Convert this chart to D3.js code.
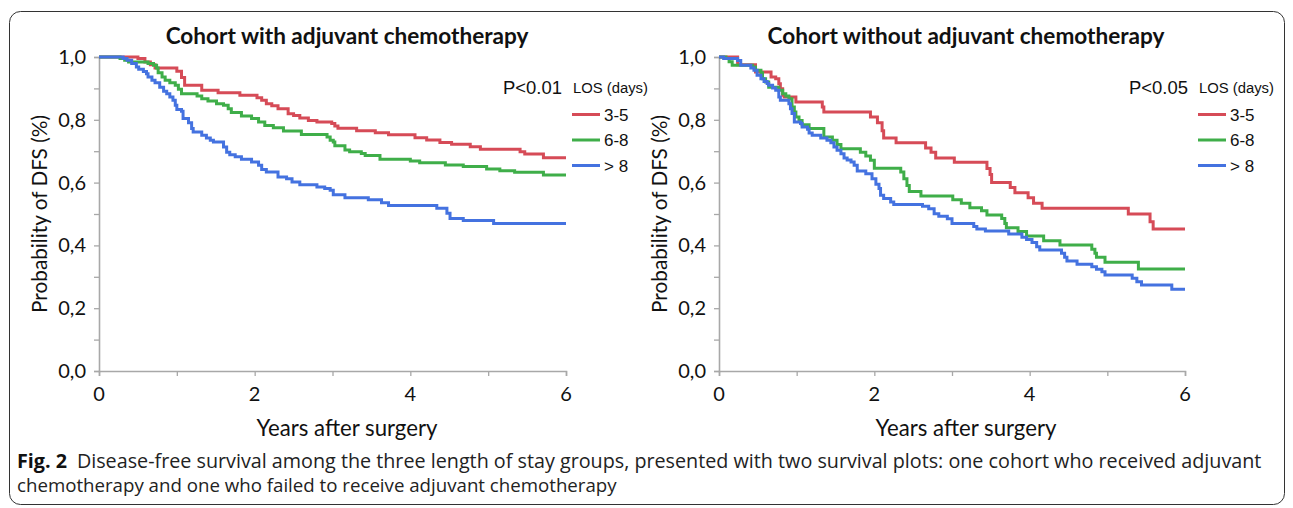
<!DOCTYPE html>
<html>
<head>
<meta charset="utf-8">
<script src="https://cdnjs.cloudflare.com/ajax/libs/d3/7.8.5/d3.min.js"></script>
<style>
body { margin: 0; background: #fff; }
text { fill: #111; }
.chart-text { font-family: Lato, "Open Sans", sans-serif; }
.legend-text { font-family: "Liberation Sans", Arial, sans-serif; }
.caption { font-family: "Open Sans", "Noto Sans", sans-serif; fill: #222; }
</style>
</head>
<body>
<svg id="chart" width="1293" height="508"></svg>
<script>
// groups and tick labels
var groups = ["3-5", "6-8", "> 8"];
var colors = ["#d64b57", "#3fae49", "#4472e0"];
var yTicks = [0, 0.2, 0.4, 0.6, 0.8, 1.0];
var yMinor = [0.1, 0.3, 0.5, 0.7, 0.9];
var xTicks = [0, 2, 4, 6];
var xMinor = [1, 3, 5];
var panelTitles = ["Cohort with adjuvant chemotherapy", "Cohort without adjuvant chemotherapy"];
var pValues = ["P<0.01", "P<0.05"];

// Kaplan-Meier steps [years, DFS] - cohort with adjuvant chemotherapy
var withLos35 = [[0,1],[0.50,0.995],[0.59,0.984],[0.66,0.975],[0.72,0.965],[1.00,0.955],[1.06,0.935],[1.10,0.91],[1.32,0.894],[1.53,0.886],[1.81,0.878],[2.03,0.870],[2.09,0.862],[2.15,0.851],[2.22,0.845],[2.30,0.835],[2.43,0.819],[2.50,0.814],[2.58,0.806],[2.69,0.798],[2.80,0.793],[2.99,0.788],[3.03,0.780],[3.07,0.773],[3.31,0.765],[3.55,0.759],[3.72,0.752],[4.06,0.743],[4.21,0.736],[4.38,0.728],[4.53,0.722],[4.77,0.714],[4.90,0.706],[5.41,0.698],[5.47,0.691],[5.71,0.679],[6.0,0.679]];
var withLos68 = [[0,1],[0.27,0.995],[0.33,0.99],[0.38,0.984],[0.63,0.979],[0.70,0.974],[0.74,0.965],[0.76,0.95],[0.81,0.936],[0.85,0.926],[0.91,0.918],[0.98,0.910],[1.02,0.897],[1.06,0.883],[1.26,0.876],[1.32,0.867],[1.40,0.860],[1.51,0.851],[1.60,0.846],[1.66,0.835],[1.70,0.823],[1.83,0.812],[1.96,0.804],[2.05,0.793],[2.13,0.782],[2.24,0.775],[2.37,0.764],[2.60,0.753],[2.93,0.745],[2.97,0.735],[3.01,0.729],[3.03,0.717],[3.16,0.704],[3.22,0.698],[3.37,0.693],[3.42,0.686],[3.61,0.674],[4.00,0.669],[4.12,0.663],[4.45,0.656],[4.68,0.651],[4.98,0.643],[5.15,0.638],[5.34,0.633],[5.71,0.624],[6.0,0.624]];
var withLos8 = [[0,1],[0.31,0.995],[0.36,0.99],[0.42,0.979],[0.48,0.968],[0.51,0.961],[0.57,0.954],[0.61,0.947],[0.63,0.936],[0.68,0.926],[0.72,0.918],[0.78,0.904],[0.83,0.891],[0.87,0.883],[0.91,0.873],[0.95,0.862],[0.98,0.846],[1.00,0.833],[1.06,0.827],[1.08,0.804],[1.15,0.791],[1.19,0.772],[1.21,0.761],[1.32,0.751],[1.38,0.742],[1.43,0.735],[1.47,0.729],[1.60,0.713],[1.64,0.697],[1.68,0.689],[1.75,0.682],[1.83,0.674],[1.96,0.666],[2.05,0.655],[2.09,0.642],[2.15,0.634],[2.30,0.618],[2.41,0.612],[2.48,0.602],[2.58,0.593],[2.80,0.586],[2.90,0.581],[2.97,0.576],[3.01,0.561],[3.16,0.552],[3.46,0.545],[3.63,0.536],[3.72,0.527],[4.34,0.518],[4.47,0.502],[4.51,0.486],[4.68,0.479],[5.07,0.470],[6.0,0.470]];

// cohort without adjuvant chemotherapy
var withoutLos35 = [[0,1],[0.24,0.975],[0.47,0.952],[0.67,0.936],[0.73,0.931],[0.77,0.915],[0.79,0.899],[0.82,0.878],[0.84,0.873],[0.99,0.857],[1.33,0.841],[1.35,0.825],[1.95,0.809],[2.04,0.791],[2.10,0.765],[2.12,0.742],[2.28,0.727],[2.66,0.710],[2.73,0.697],[2.79,0.678],[3.03,0.665],[3.45,0.645],[3.49,0.626],[3.51,0.600],[3.75,0.584],[3.81,0.568],[3.98,0.552],[4.05,0.534],[4.16,0.518],[5.27,0.500],[5.55,0.475],[5.59,0.452],[6.0,0.452]];
var withoutLos68 = [[0,1],[0.09,0.995],[0.13,0.985],[0.17,0.974],[0.43,0.968],[0.47,0.958],[0.54,0.950],[0.56,0.931],[0.60,0.920],[0.64,0.904],[0.77,0.894],[0.82,0.883],[0.86,0.876],[0.90,0.867],[0.94,0.841],[0.97,0.825],[0.99,0.809],[1.03,0.798],[1.07,0.784],[1.16,0.772],[1.35,0.745],[1.46,0.735],[1.52,0.721],[1.57,0.708],[1.82,0.697],[1.89,0.685],[1.95,0.671],[2.00,0.646],[2.34,0.634],[2.38,0.612],[2.42,0.591],[2.45,0.572],[2.60,0.557],[3.01,0.545],[3.12,0.534],[3.23,0.520],[3.38,0.510],[3.45,0.497],[3.64,0.486],[3.68,0.470],[3.70,0.456],[3.85,0.444],[3.96,0.430],[4.18,0.415],[4.39,0.401],[4.80,0.388],[4.84,0.375],[4.86,0.362],[4.97,0.346],[5.40,0.325],[6.0,0.325]];
var withoutLos8 = [[0,1],[0.06,0.995],[0.24,0.989],[0.28,0.974],[0.41,0.965],[0.45,0.958],[0.49,0.942],[0.54,0.931],[0.58,0.922],[0.62,0.916],[0.64,0.910],[0.69,0.901],[0.73,0.894],[0.77,0.873],[0.79,0.862],[0.90,0.851],[0.92,0.835],[0.94,0.820],[0.97,0.793],[1.05,0.788],[1.07,0.777],[1.14,0.770],[1.16,0.758],[1.20,0.751],[1.31,0.742],[1.39,0.735],[1.44,0.727],[1.48,0.713],[1.52,0.703],[1.57,0.692],[1.61,0.678],[1.65,0.672],[1.70,0.666],[1.74,0.655],[1.78,0.637],[1.89,0.628],[1.97,0.612],[2.02,0.595],[2.06,0.581],[2.08,0.560],[2.12,0.549],[2.21,0.538],[2.25,0.530],[2.62,0.525],[2.70,0.517],[2.77,0.501],[2.83,0.493],[2.94,0.485],[3.00,0.470],[3.28,0.460],[3.32,0.452],[3.43,0.446],[3.73,0.436],[3.90,0.426],[3.96,0.419],[4.03,0.409],[4.09,0.396],[4.13,0.385],[4.41,0.375],[4.45,0.362],[4.48,0.350],[4.61,0.340],[4.80,0.332],[4.86,0.324],[4.93,0.316],[4.97,0.306],[5.32,0.295],[5.38,0.284],[5.44,0.274],[5.83,0.260],[6.0,0.260]];

var svg = d3.select("#chart");

// frame round the figure
svg.append("rect")
  .attr("x", 9.5).attr("y", 11.5)
  .attr("width", 1275).attr("height", 493)
  .attr("rx", 11)
  .style("fill", "none").style("stroke", "#333").style("stroke-width", 1);

// scale a text's font so it spans the wanted width
function fitWidth(sel, w) {
  var fs = parseFloat(sel.style("font-size"));
  var len = sel.node().getComputedTextLength();
  sel.style("font-size", (fs * w / len) + "px");
}

var panels = [
  {left: 99, right: 566, cx: 347, legX: 572, series: [withLos35, withLos68, withLos8], titleW: 363},
  {left: 719, right: 1185, cx: 966, legX: 1198, series: [withoutLos35, withoutLos68, withoutLos8], titleW: 397}
];
var plotTop = 57, plotBottom = 371;

panels.forEach(function(p, k) {
  var xs = d3.scaleLinear().domain([0, 6]).range([p.left, p.right]);
  var ys = d3.scaleLinear().domain([0, 1]).range([plotBottom, plotTop]);
  var g = svg.append("g");

  // axes
  var yAxis = d3.axisLeft(ys).tickValues(yTicks.concat(yMinor)).tickSize(5).tickFormat("");
  var ya = g.append("g").attr("transform", "translate(" + p.left + ",0)").call(yAxis);
  var xAxis = d3.axisBottom(xs).tickValues(xTicks.concat(xMinor)).tickSize(5).tickFormat("");
  var xa = g.append("g").attr("transform", "translate(0," + plotBottom + ")").call(xAxis);
  [ya, xa].forEach(function(a) {
    a.select(".domain").attr("stroke", "#a8a8a8").attr("stroke-width", 1.6);
    a.selectAll(".tick line").attr("stroke", "#a8a8a8").attr("stroke-width", 1.3);
  });

  g.selectAll(".ylab").data(yTicks).enter().append("text")
    .attr("class", "chart-text")
    .attr("x", p.left - 13).attr("y", function(d) { return ys(d); })
    .attr("dy", "0.35em")
    .attr("text-anchor", "end")
    .style("font-size", "20px")
    .text(function(d) { return d3.format(".1f")(d).replace(".", ","); });

  g.selectAll(".xlab").data(xTicks).enter().append("text")
    .attr("class", "chart-text")
    .attr("x", function(d) { return xs(d); }).attr("y", 401)
    .attr("text-anchor", "middle")
    .style("font-size", "20px")
    .text(function(d) { return d; });

  // titles
  var t = g.append("text").attr("class", "chart-text")
    .attr("x", p.cx).attr("y", 44).attr("text-anchor", "middle")
    .style("font-size", "20px").style("font-weight", "bold")
    .text(panelTitles[k]);
  fitWidth(t, p.titleW);

  var xt = g.append("text").attr("class", "chart-text")
    .attr("x", p.cx).attr("y", 436).attr("text-anchor", "middle")
    .style("font-size", "21px")
    .text("Years after surgery");
  fitWidth(xt, 181);

  var yt = g.append("text").attr("class", "chart-text")
    .attr("transform", "translate(" + (p.left - 59) + ",214) rotate(-90)")
    .attr("text-anchor", "middle").attr("dy", "0.35em")
    .style("font-size", "20px")
    .text("Probability of DFS (%)");
  fitWidth(yt, 198);

  // survival curves
  var line = d3.line()
    .x(function(d) { return xs(d[0]); })
    .y(function(d) { return ys(d[1]); })
    .curve(d3.curveStepAfter);
  g.selectAll(".curve").data(p.series).enter().append("path")
    .attr("d", line)
    .style("fill", "none")
    .style("stroke", function(d, i) { return colors[i]; })
    .style("stroke-width", 3);

  // p value and legend
  var lx = p.legX;
  var pv = g.append("text").attr("class", "legend-text")
    .attr("x", lx - 69).attr("y", 94)
    .style("font-size", "17px")
    .text(pValues[k]);
  fitWidth(pv, 59);
  var los = g.append("text").attr("class", "legend-text")
    .attr("x", lx + 1).attr("y", 93)
    .style("font-size", "13.5px")
    .text("LOS (days)");
  fitWidth(los, 75);

  var leg = g.selectAll(".leg").data(groups).enter().append("g")
    .attr("transform", function(d, i) { return "translate(" + lx + "," + (114.5 + i * 25.5) + ")"; });
  leg.append("line")
    .attr("x1", 0).attr("x2", 28)
    .style("stroke", function(d, i) { return colors[i]; })
    .style("stroke-width", 3);
  leg.append("text").attr("class", "legend-text")
    .attr("x", 32).attr("dy", "0.36em")
    .style("font-size", "17px")
    .text(function(d) { return d; });
});

// caption
var cap1 = svg.append("text").attr("class", "caption")
  .attr("x", 17).attr("y", 468).style("font-size", "17px");
cap1.append("tspan").style("font-weight", "bold").style("fill", "#111").text("Fig. 2");
cap1.append("tspan").text("\u2002Disease-free survival among the three length of stay groups, presented with two survival plots: one cohort who received adjuvant");
fitWidth(cap1, 1245);
var cap2 = svg.append("text").attr("class", "caption")
  .attr("x", 17).attr("y", 492).style("font-size", "17px")
  .text("chemotherapy and one who failed to receive adjuvant chemotherapy");
fitWidth(cap2, 600);
</script>
</body>
</html>
